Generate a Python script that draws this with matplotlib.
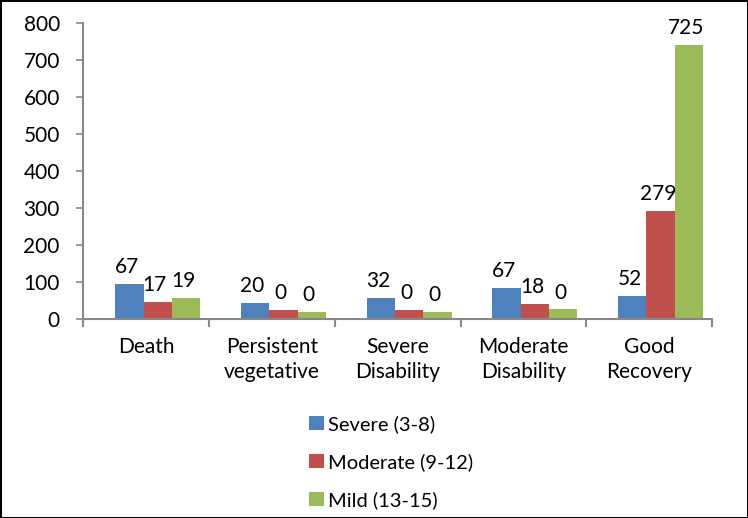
import numpy as np
import matplotlib
matplotlib.use("Agg")
import matplotlib.pyplot as plt

plt.rcParams['font.family'] = ['Lato', 'DejaVu Sans']

# outcome categories on the x axis
categories = ["Death", "Persistent\nvegetative", "Severe\nDisability",
              "Moderate\nDisability", "Good\nRecovery"]
series = ["Severe (3-8)", "Moderate (9-12)", "Mild (13-15)"]
colors = ["#4F81BD", "#C0504D", "#9BBB59"]

# bar heights as drawn in the picture
severe_h = [94, 44, 57, 85, 62]
moderate_h = [47, 24, 24, 40, 291]
mild_h = [57, 20, 20, 26, 740]

# value labels printed above the bars
severe_lbl = ["67", "20", "32", "67", "52"]
moderate_lbl = ["17", "0", "0", "18", "279"]
mild_lbl = ["19", "0", "0", "0", "725"]

heights = [severe_h, moderate_h, mild_h]
labels = [severe_lbl, moderate_lbl, mild_lbl]

fig = plt.figure(figsize=(7.48, 5.18), dpi=100)
fig.patch.set_edgecolor("black")
fig.patch.set_linewidth(2)
ax = fig.add_axes([0.1116, 0.384, 0.8404, 0.572])

x = np.arange(len(categories))
width = 0.225
for k in range(3):
    pos = x + (k - 1) * width + 0.09
    bars = ax.bar(pos, heights[k], width, color=colors[k], label=series[k])
    for b, txt in zip(bars, labels[k]):
        ax.annotate(txt, (b.get_x() + b.get_width() / 2, b.get_height()),
                    xytext=(-2, 5), textcoords="offset points",
                    ha="center", va="bottom", fontsize=15)

ax.set_xlim(-0.5, 4.5)
ax.set_ylim(0, 800)
ax.set_yticks(range(0, 801, 100))
ax.set_xticks(x)
ax.set_xticklabels(categories, fontsize=15, linespacing=1.3)
ax.set_xticks(np.arange(-0.5, 4.6, 1), minor=True)
ax.tick_params(axis="x", which="major", length=0, pad=13)
ax.tick_params(axis="x", which="minor", length=6, width=1.5, color="#888888", direction="out")
ax.tick_params(axis="y", labelsize=15, length=5, width=1.2, color="#888888", pad=12)

for s in ["top", "right"]:
    ax.spines[s].set_visible(False)
for s in ["left", "bottom"]:
    ax.spines[s].set_color("#888888")
    ax.spines[s].set_linewidth(1.5)

fig.legend(loc="upper left", bbox_to_anchor=(0.400, 0.218), frameon=False,
           fontsize=14.5, handlelength=0.75, handleheight=0.75, handletextpad=0.2,
           labelspacing=1.0, borderpad=0)

fig.savefig("out.png", dpi=100)
